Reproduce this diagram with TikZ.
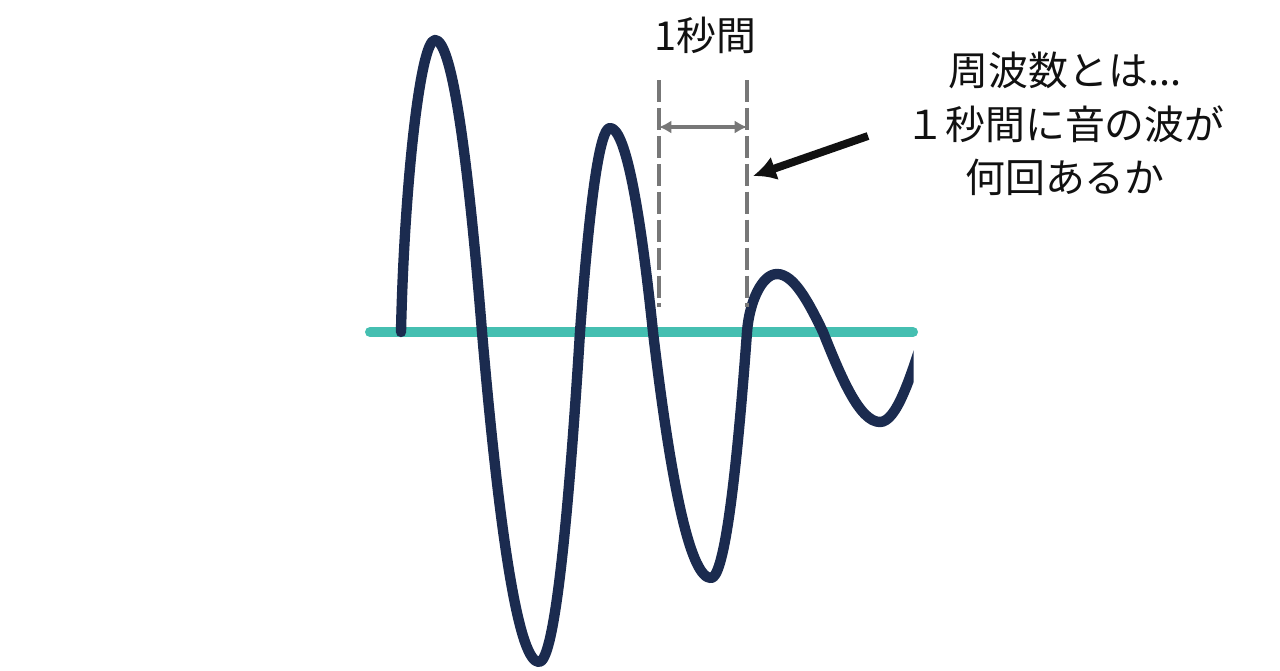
\documentclass[tikz,border=0pt]{standalone}
\usepackage{fontspec}
\setmainfont{Noto Sans CJK JP}
\usetikzlibrary{arrows.meta,calc,positioning}
\definecolor{ink}{HTML}{111111}
\definecolor{wavec}{HTML}{1B2B4F}
\definecolor{axisc}{HTML}{45BFB1}
\definecolor{markc}{HTML}{777777}
\tikzset{
  wave/.style={wavec,line width=5.9pt,line cap=round,line join=round},
  axis/.style={axisc,line width=5.7pt,line cap=round},
  guide/.style={markc,line width=2.2pt,dash pattern=on 12.5pt off 3.4pt},
  span/.style={markc,line width=2.2pt,{Latex[length=7pt,width=7.5pt]}-{Latex[length=7pt,width=7.5pt]}},
  pointer/.style={ink,line width=4.5pt,-{Latex[length=13pt,width=14pt]}},
  lbl/.style={font=\fontsize{22.7pt}{30.5pt}\selectfont,text=ink,inner sep=0pt},
}

\begin{document}
\begin{tikzpicture}[x=0.02cm,y=-0.02cm]
  \useasboundingbox (0,0) rectangle (1280,670);
  % baseline
  \coordinate (axL) at (370,332);
  \coordinate (axR) at (913,332);
  \draw[axis] (axL) -- (axR);
  % the wave, cut off on the right
  \begin{scope}
    \clip (0,0) rectangle (913.5,670);
    \draw[wave] (401,332)
      .. controls (404,190) and (420,40) .. (435,40)
      .. controls (450.7,40) and (466.3,137.3) .. (482,332)
      .. controls (501,552) and (520,662) .. (539,662)
      .. controls (552.7,662) and (566.3,552) .. (580,332)
      .. controls (590,196) and (600,128) .. (610,128)
      .. controls (624.3,128) and (638.7,196) .. (653,332)
      .. controls (672.3,496) and (691.7,578) .. (711,578)
      .. controls (723,578) and (735,496) .. (747,332)
      .. controls (749.2,302) and (762,274) .. (777,274)
      .. controls (793.7,274) and (808.5,302) .. (823,332)
      .. controls (840.6,376) and (859.4,422) .. (880,422)
      .. controls (896.3,422) and (910.3,378.1) .. (925,332);
  \end{scope}
  % one-second span
  \coordinate (gAt) at (659,80);
  \coordinate (gAb) at (659,307);
  \coordinate (gBt) at (747,80);
  \coordinate (gBb) at (747,307);
  \draw[guide] (gAt) -- (gAb);
  \draw[guide] (gBt) -- (gBb);
  \coordinate (spA) at (659,127);
  \coordinate (spB) at (747,127);
  \draw[span] (spA) -- (spB);
  \node[lbl] (sec) at (705,35) {1秒間};
  % explanation
  \node[lbl,align=center] (note) at (1065,124)
    {周波数とは...\\１秒間に音の波が\\何回あるか};
  \coordinate (ptail) at (868,136);
  \coordinate (ptip) at (753,176);
  \draw[pointer] (ptail) -- (ptip);
\end{tikzpicture}
\end{document}
